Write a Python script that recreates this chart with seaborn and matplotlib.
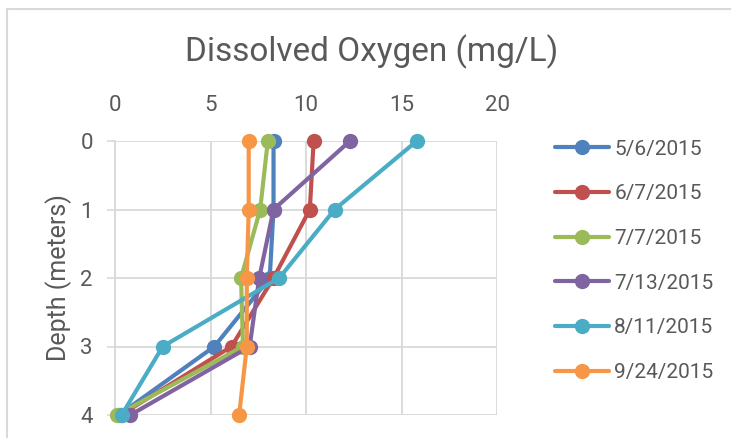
import matplotlib
matplotlib.use("Agg")
import matplotlib.pyplot as plt
import seaborn as sns
import pandas as pd
from matplotlib.lines import Line2D
from matplotlib.patches import Rectangle

depths = [0, 1, 2, 3, 4]
dates = ["5/6/2015", "6/7/2015", "7/7/2015", "7/13/2015", "8/11/2015", "9/24/2015"]
do_0506 = [8.3, 8.3, 8.1, 5.2, 0.2]
do_0607 = [10.4, 10.2, 8.3, 6.1, 0.3]
do_0707 = [8.0, 7.6, 6.6, 6.7, 0.1]
do_0713 = [12.3, 8.3, 7.55, 7.05, 0.8]
do_0811 = [15.8, 11.5, 8.6, 2.5, 0.35]
do_0924 = [7.0, 7.0, 6.9, 6.9, 6.5]
series = [do_0506, do_0607, do_0707, do_0713, do_0811, do_0924]
colors = ["#4F81BD", "#C0504D", "#9BBB59", "#8064A2", "#4BACC6", "#F79646"]
x_ticks = [0, 5, 10, 15, 20]
y_ticks = [0, 1, 2, 3, 4]

rows = []
for d, vals in zip(dates, series):
    for dep, v in zip(depths, vals):
        rows.append({"Date": d, "Depth": dep, "DO": v})
df = pd.DataFrame(rows)

sns.set_theme(style="white")
plt.rcParams["font.family"] = ["Roboto", "DejaVu Sans"]
txt = "#595959"
grid = "#D9D9D9"

fig = plt.figure(figsize=(7.31, 4.38), dpi=100)
ax = fig.add_axes([115/731, 1-415/438, (497-115)/731, (415-141)/438])

sns.lineplot(data=df, x="DO", y="Depth", hue="Date", hue_order=dates,
             palette=colors, sort=False, estimator=None, orient="y",
             marker="o", markersize=11, markeredgewidth=0, linewidth=3,
             legend=False, ax=ax, clip_on=False, zorder=3)

ax.set_xlim(0, 20)
ax.set_ylim(4, 0)
ax.set_xticks(x_ticks)
ax.set_yticks(y_ticks)
ax.xaxis.tick_top()
ax.tick_params(axis="x", length=0, pad=18, labelsize=16, labelcolor=txt)
ax.tick_params(axis="y", length=6, width=1.2, color=grid, pad=10, labelsize=16, labelcolor=txt, left=True)
ax.grid(True, color=grid, linewidth=1.3)
for s in ax.spines.values():
    s.set_visible(False)
ax.spines["left"].set_visible(True)
ax.spines["left"].set_color(grid)
ax.spines["left"].set_linewidth(1.3)
ax.set_xlabel("")
ax.set_ylabel("Depth (meters)", fontsize=18, color=txt, labelpad=6)

fig.text(372/731, 1-52/438, "Dissolved Oxygen (mg/L)", ha="center", va="center",
         fontsize=24, color=txt)

handles = [Line2D([0], [0], color=c, lw=3, marker="o", markersize=11, markeredgewidth=0) for c in colors]
leg = fig.legend(handles, dates, loc="upper left", bbox_to_anchor=(536/731, 1-121/438),
                 frameon=False, fontsize=15, handlelength=2.6, handletextpad=0.25,
                 labelspacing=1.23, labelcolor=txt)

fig.add_artist(Rectangle((7/731, -0.1), 1.2, 1-9/438+0.1, transform=fig.transFigure,
                         fill=False, edgecolor="#D9D9D9", linewidth=1.5))

fig.savefig("out.png", dpi=100)
